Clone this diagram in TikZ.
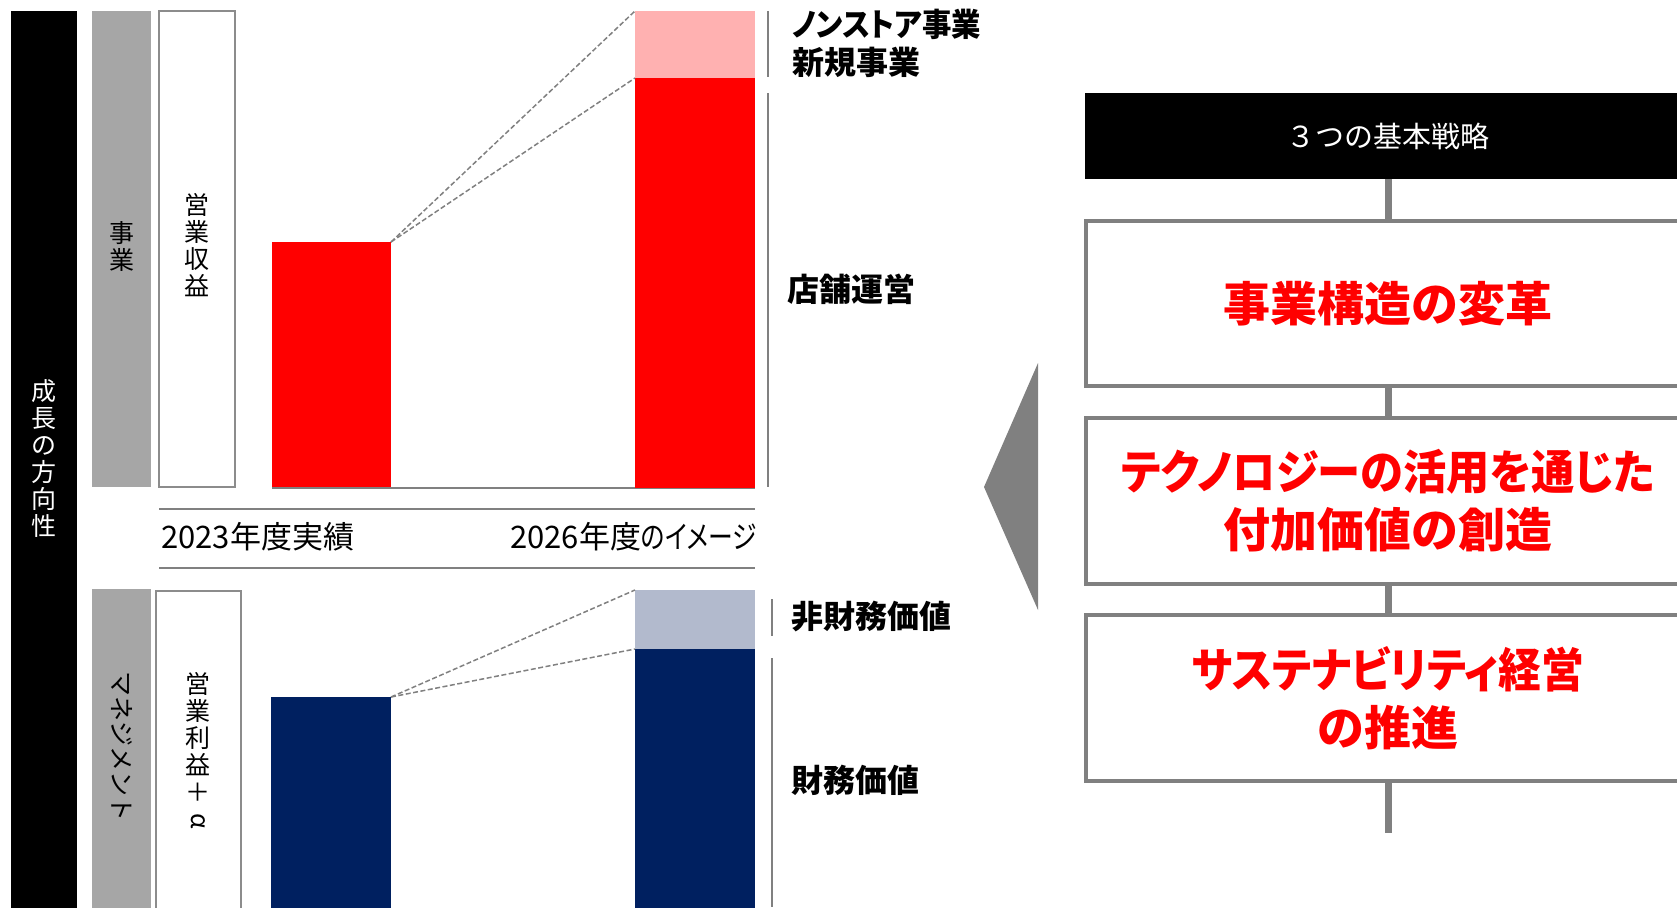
\documentclass[tikz,border=0pt]{standalone}
\usepackage{fontspec}
\setmainfont{Noto Sans CJK JP}
\newfontfamily\pjp{Noto Sans CJK JP}[RawFeature=+palt]
\usetikzlibrary{calc}
\definecolor{barred}{HTML}{FF0000}
\definecolor{barpink}{HTML}{FFB1B1}
\definecolor{barnavy}{HTML}{002060}
\definecolor{barslate}{HTML}{B2BACD}
\definecolor{bandgray}{HTML}{A6A6A6}
\definecolor{linegray}{HTML}{808080}
\definecolor{boxgray}{HTML}{8C8C8C}
\tikzset{
  blk/.style={anchor=north west, inner sep=0pt, outer sep=0pt},
  vtext/.style={align=center, font=\fontsize{25}{27}\selectfont, inner sep=0pt},
  lbl/.style={anchor=west, inner sep=0pt, font=\pjp\bfseries\fontsize{32}{32}\selectfont},
  yr/.style={inner sep=0pt, font=\pjp\fontsize{31}{31}\selectfont},
  dashline/.style={linegray, line width=1.5pt, dash pattern=on 5pt off 2.5pt},
  bracket/.style={linegray, line width=2pt},
  sepline/.style={linegray, line width=2.5pt},
  sbox/.style={draw=linegray, line width=3.5pt, fill=white, minimum width=604pt, inner sep=0pt, outer sep=0pt, anchor=north west, text=red, align=center, font=\pjp\bfseries\fontsize{47}{58}\selectfont},
  conn/.style={linegray, line width=7pt},
}
\begin{document}
\begin{tikzpicture}[x=1pt,y=-1pt]
\useasboundingbox (0,0) rectangle (1677,907);
\clip (0,0) rectangle (1677,907);
% left axis
\node[blk, fill=black, minimum width=66pt, minimum height=920pt] (axis) at (11,11) {};
\node[vtext, text=white] (axislbl) at (44,458) {成\\長\\の\\方\\向\\性};
% upper band
\node[blk, fill=bandgray, minimum width=59pt, minimum height=476pt] (band1) at (92,11) {};
\node[vtext] (band1lbl) at (121.5,246) {事\\業};
\node[blk, draw=boxgray, line width=2pt, minimum width=76pt, minimum height=476pt] (kpi1) at (159,11) {};
\node[vtext] (kpi1lbl) at (197,245) {営\\業\\収\\益};
% upper bars
\draw[linegray, line width=2pt] (272,488) -- (755,488);
\node[blk, fill=barred, minimum width=119pt, minimum height=245pt] (redA) at (272,242) {};
\node[blk, fill=barred, minimum width=120pt, minimum height=410pt] (redB) at (635,78) {};
\node[blk, fill=barpink, minimum width=120pt, minimum height=67pt] (pinkB) at (635,11) {};
\draw[dashline] (redA.north east) -- (pinkB.north west);
\draw[dashline] (redA.north east) -- (redB.north west);
\draw[bracket] (768,11) -- (768,77);
\draw[bracket] (768,93) -- (768,487);
\node[lbl] (lblNS) at (792,24) {\scalebox{0.92}[1]{ノンストア事業}};
\node[lbl] (lblNew) at (792,62) {新規事業};
\node[lbl] (lblStore) at (787,289) {店舗運営};
% year axis
\draw[sepline] (159,509) -- (755,509);
\draw[sepline] (159,568) -- (755,568);
\node[yr, anchor=west] (y23) at (161,537) {2023年度実績};
\node[yr, anchor=east] (y26) at (757,537) {2026年度\scalebox{0.8}[1]{のイメージ}};
% lower band
\node[blk, fill=bandgray, minimum width=59pt, minimum height=330pt] (band2) at (92,589) {};
\node[font=\fontsize{25}{25}\selectfont, rotate=-90, inner sep=0pt] (band2lbl) at (121.5,746) {マネジメント};
\node[blk, draw=boxgray, line width=2pt, minimum width=85pt, minimum height=330pt] (kpi2) at (156,591) {};
\node[vtext] (kpi2lbl) at (198,751) {営\\業\\利\\益\\＋\\\rotatebox[origin=c]{-90}{α}};
% lower bars
\node[blk, fill=barnavy, minimum width=120pt, minimum height=230pt] (navyA) at (271,697) {};
\node[blk, fill=barnavy, minimum width=120pt, minimum height=270pt] (navyB) at (635,649) {};
\node[blk, fill=barslate, minimum width=120pt, minimum height=59pt] (slateB) at (635,590) {};
\draw[dashline] (navyA.north east) -- (slateB.north west);
\draw[dashline] (navyA.north east) -- (navyB.north west);
\draw[bracket] (772,599) -- (772,636);
\draw[bracket] (772,658) -- (772,907);
\node[lbl] (lblNF) at (791,617) {非財務価値};
\node[lbl] (lblF) at (791,780) {財務価値};
% arrow triangle
\fill[linegray] (984,487) -- (1038,363) -- (1038,610) -- cycle;
% strategy column
\node[blk, fill=black, minimum width=606pt, minimum height=86pt, text=white, font=\fontsize{29}{29}\selectfont] (hdr) at (1085,93) {３つの基本戦略};
\node[sbox, minimum height=165pt] (b1) at (1086,221) {事業構造の変革};
\node[sbox, minimum height=166pt] (b2) at (1086,418) {\scalebox{0.92}[1]{テクノロジーの活用を通じた}\\付加価値の創造};
\node[sbox, minimum height=166pt] (b3) at (1086,615) {\scalebox{0.91}[1]{サステナビリティ経営}\\の推進};
\coordinate (tail) at (1388,833);
\draw[conn] (hdr.south -| b1.north) -- (b1.north);
\draw[conn] (b1.south) -- (b2.north);
\draw[conn] (b2.south) -- (b3.north);
\draw[conn] (b3.south) -- (tail);
\end{tikzpicture}
\end{document}
